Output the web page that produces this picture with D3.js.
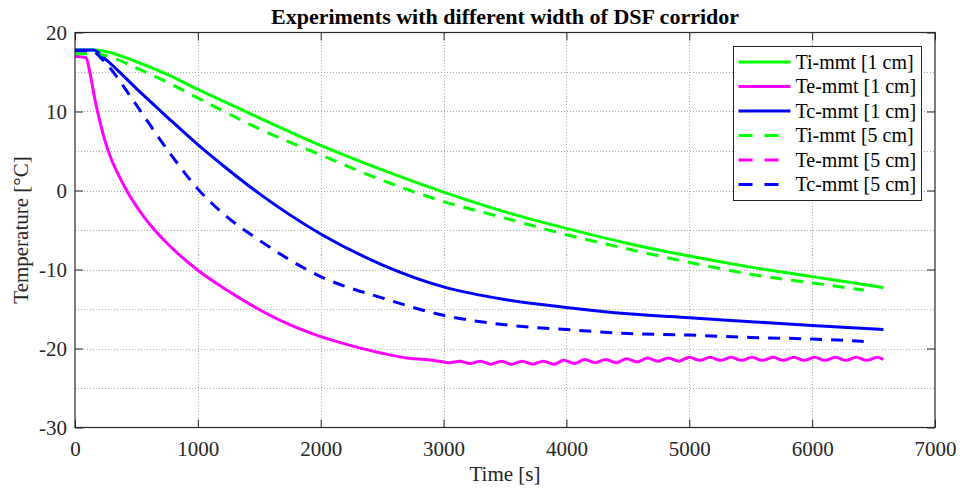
<!DOCTYPE html>
<html lang="en">
<head>
<meta charset="utf-8">
<script src="https://cdn.jsdelivr.net/npm/d3@7/dist/d3.min.js"></script>
<style type="text/css">
body {
	margin: 0;
	background-color: #ffffff;
}
svg text {
	font-family: "Liberation Serif", "Times New Roman", serif;
	fill: #262626;
}
.grid line {
	stroke: #aaaaaa;
	stroke-width: 1;
	stroke-dasharray: 1,2;
	shape-rendering: crispEdges;
}
.frame {
	fill: none;
	stroke: #262626;
	stroke-width: 1.2;
}
</style>
</head>
<body>
<script type="text/javascript">

// axis ticks
var xTicks = [0, 1000, 2000, 3000, 4000, 5000, 6000, 7000];
var yTicks = [-30, -20, -10, 0, 10, 20];
var yMinorGrid = [-25, -15, -5, 5, 15];

// Ti-mmt [1 cm]
var tiT1 = [0, 150, 250, 500, 750, 1000, 1250, 1500, 2000, 2500, 3000, 3500, 4000, 4500, 5000, 5500, 6000, 6500, 6580];
var tiV1 = [17.8, 17.8, 17.6, 16.3, 14.7, 12.8, 11.0, 9.2, 5.7, 2.6, -0.2, -2.7, -4.8, -6.7, -8.3, -9.7, -10.9, -12.1, -12.3];

// Te-mmt [1 cm]
var teT1 = [0, 90, 120, 165, 205, 250, 300, 350, 400, 450, 500, 560, 620, 770, 1000, 1235, 1480, 1720, 2000, 2240, 2500, 2700, 2850,
	2960, 3045, 3130, 3215, 3300, 3385, 3470, 3555, 3640, 3725, 3810, 3895, 3980, 4065, 4150, 4235, 4320, 4405,
	4490, 4575, 4660, 4745, 4830, 4915, 5000, 5085, 5170, 5255, 5340, 5425, 5510, 5595, 5680, 5765, 5850, 5935,
	6020, 6105, 6190, 6275, 6360, 6445, 6530, 6580];
var teV1 = [17.0, 16.8, 15.0, 11.3, 8.6, 6.0, 3.8, 2.1, 0.6, -0.8, -2.0, -3.3, -4.5, -7.0, -10.1, -12.6, -14.9, -16.8, -18.5, -19.6, -20.6, -21.2, -21.4,
	-21.6, -21.8, -21.6, -21.9, -21.6, -22.0, -21.6, -22.0, -21.6, -22.0, -21.6, -22.0, -21.5, -21.9, -21.4, -21.8, -21.4, -21.8,
	-21.3, -21.7, -21.2, -21.6, -21.2, -21.6, -21.1, -21.5, -21.1, -21.5, -21.1, -21.5, -21.1, -21.5, -21.1, -21.5, -21.1, -21.5,
	-21.1, -21.5, -21.1, -21.5, -21.1, -21.5, -21.1, -21.4];

// Tc-mmt [1 cm]
var tcT1 = [0, 150, 250, 500, 750, 1000, 1250, 1500, 2000, 2500, 3000, 3500, 4000, 4500, 5000, 5500, 6000, 6580];
var tcV1 = [17.8, 17.8, 16.6, 12.9, 9.3, 5.8, 2.6, -0.4, -5.5, -9.4, -12.2, -13.8, -14.8, -15.6, -16.1, -16.6, -17.1, -17.6];

// Ti-mmt [5 cm]
var tiT5 = [0, 150, 250, 500, 750, 1000, 1500, 2000, 2500, 3000, 3500, 4000, 4500, 5000, 5500, 6000, 6420];
var tiV5 = [17.3, 17.3, 17.1, 15.5, 13.7, 11.7, 7.8, 4.5, 1.3, -1.4, -3.5, -5.6, -7.4, -9.1, -10.6, -11.7, -12.6];

// Te-mmt [5 cm] (no visible trace in the plot)
var teT5 = [];
var teV5 = [];

// Tc-mmt [5 cm]
var tcT5 = [0, 130, 250, 500, 750, 1000, 1250, 1500, 2000, 2500, 3000, 3500, 4000, 4500, 5000, 5500, 6000, 6420];
var tcV5 = [17.7, 17.7, 16.1, 10.8, 5.2, 0.2, -3.5, -6.3, -10.9, -13.6, -15.8, -17.0, -17.6, -18.1, -18.3, -18.6, -18.8, -19.1];

var seriesNames = ["Ti-mmt [1 cm]", "Te-mmt [1 cm]", "Tc-mmt [1 cm]", "Ti-mmt [5 cm]", "Te-mmt [5 cm]", "Tc-mmt [5 cm]"];
var seriesColors = ["#00ff00", "#ff00ff", "#0000ff", "#00ff00", "#ff00ff", "#0000ff"];
var seriesDashed = [false, false, false, true, true, true];
var seriesT = [tiT1, teT1, tcT1, tiT5, teT5, tcT5];
var seriesV = [tiV1, teV1, tcV1, tiV5, teV5, tcV5];

var width = 960, height = 489;
var plotLeft = 75, plotRight = 935, plotTop = 32.5, plotBottom = 427.5;

var svg = d3.select("body").append("svg")
	.attr("width", width)
	.attr("height", height);

var x = d3.scaleLinear().domain([0, 7000]).range([plotLeft, plotRight]);
var y = d3.scaleLinear().domain([-30, 20]).range([plotBottom, plotTop]);

// grid
var grid = svg.append("g").attr("class", "grid");
grid.selectAll(".vx")
	.data(xTicks.slice(1, -1))
	.enter().append("line")
	.attr("x1", function(d) { return Math.round(x(d)) + 0.5; })
	.attr("x2", function(d) { return Math.round(x(d)) + 0.5; })
	.attr("y1", plotTop).attr("y2", plotBottom);
grid.selectAll(".hy")
	.data(yTicks.slice(1, -1).concat(yMinorGrid))
	.enter().append("line")
	.attr("y1", function(d) { return Math.round(y(d)) + 0.5; })
	.attr("y2", function(d) { return Math.round(y(d)) + 0.5; })
	.attr("x1", plotLeft).attr("x2", plotRight);

// curves
var line = d3.line()
	.x(function(d) { return x(d[0]); })
	.y(function(d) { return y(d[1]); })
	.curve(d3.curveMonotoneX);

var series = seriesNames.map(function(n, i) {
	return {
		name: n,
		color: seriesColors[i],
		dashed: seriesDashed[i],
		pts: seriesT[i].map(function(t, j) { return [t, seriesV[i][j]]; })
	};
});

svg.append("g").selectAll("path")
	.data(series.filter(function(s) { return s.pts.length > 0; }))
	.enter().append("path")
	.attr("d", function(s) { return line(s.pts); })
	.attr("fill", "none")
	.attr("stroke", function(s) { return s.color; })
	.attr("stroke-width", 3)
	.attr("stroke-dasharray", function(s) { return s.dashed ? "12,9" : null; });

// axes: ticks on all four sides, pointing inward
var plain = function(d) { return String(d); };

svg.append("g")
	.attr("transform", "translate(0," + plotBottom + ")")
	.call(d3.axisBottom(x).tickValues(xTicks).tickFormat(plain).tickSizeInner(-8).tickSizeOuter(0).tickPadding(14))
	.call(function(g) {
		g.select(".domain").remove();
		g.selectAll("text").style("font-size", "21px");
		g.selectAll("line").attr("stroke", "#262626");
	});
svg.append("g")
	.attr("transform", "translate(0," + plotTop + ")")
	.call(d3.axisTop(x).tickValues(xTicks).tickSizeInner(-8).tickSizeOuter(0).tickFormat(""))
	.call(function(g) { g.select(".domain").remove(); g.selectAll("line").attr("stroke", "#262626"); });
svg.append("g")
	.attr("transform", "translate(" + plotLeft + ",0)")
	.call(d3.axisLeft(y).tickValues(yTicks).tickFormat(plain).tickSizeInner(-8).tickSizeOuter(0).tickPadding(8))
	.call(function(g) {
		g.select(".domain").remove();
		g.selectAll("text").style("font-size", "21px");
		g.selectAll("line").attr("stroke", "#262626");
	});
svg.append("g")
	.attr("transform", "translate(" + plotRight + ",0)")
	.call(d3.axisRight(y).tickValues(yTicks).tickSizeInner(-8).tickSizeOuter(0).tickFormat(""))
	.call(function(g) { g.select(".domain").remove(); g.selectAll("line").attr("stroke", "#262626"); });

svg.append("rect")
	.attr("class", "frame")
	.attr("x", plotLeft).attr("y", plotTop)
	.attr("width", plotRight - plotLeft).attr("height", plotBottom - plotTop);

// titles
svg.append("text")
	.attr("x", (plotLeft + plotRight) / 2)
	.attr("y", 24)
	.attr("text-anchor", "middle")
	.style("font-size", "22px")
	.style("font-weight", "bold")
	.style("fill", "#000")
	.text("Experiments with different width of DSF corridor");

svg.append("text")
	.attr("x", (plotLeft + plotRight) / 2)
	.attr("y", 481)
	.attr("text-anchor", "middle")
	.style("font-size", "21px")
	.text("Time [s]");

svg.append("text")
	.attr("transform", "translate(28," + ((plotTop + plotBottom) / 2) + ") rotate(-90)")
	.attr("text-anchor", "middle")
	.style("font-size", "21px")
	.text("Temperature [\u00b0C]");

// legend
var legend = svg.append("g").attr("transform", "translate(733.5,46.5)");
legend.append("rect")
	.attr("width", 188)
	.attr("height", 154)
	.attr("fill", "#fff")
	.attr("stroke", "#262626")
	.attr("stroke-width", 1);

var item = legend.selectAll(".item")
	.data(series)
	.enter().append("g")
	.attr("transform", function(d, i) { return "translate(0," + (15.5 + i * 24.5) + ")"; });
item.append("line")
	.attr("x1", 5).attr("x2", 57)
	.attr("stroke", function(d) { return d.color; })
	.attr("stroke-width", 3)
	.attr("stroke-dasharray", function(d) { return d.dashed ? "14,12" : null; });
item.append("text")
	.attr("x", 62)
	.attr("dy", "0.33em")
	.style("font-size", "20px")
	.style("fill", "#000")
	.text(function(d) { return d.name; });

</script>
</body>
</html>
